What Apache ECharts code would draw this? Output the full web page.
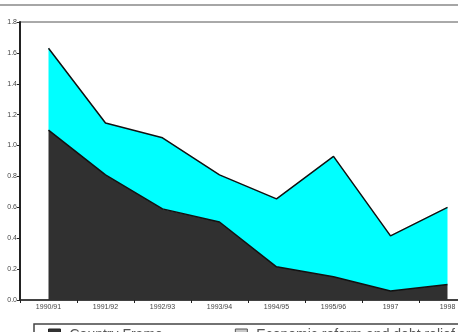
<!DOCTYPE html>
<html>
<head>
<meta charset="utf-8">
<script src="https://cdn.jsdelivr.net/npm/echarts@6/dist/echarts.min.js"></script>
<style>
html, body { margin: 0; padding: 0; background: #fff; }
#chart { width: 458px; height: 332px; }
</style>
</head>
<body>
<div id="chart"></div>
<script>
// years on the x axis
var years = ["1990/91", "1991/92", "1992/93", "1993/94", "1994/95", "1995/96", "1997", "1998"];
// bottom (dark) layer
var countryFrame = [1.10, 0.81, 0.59, 0.505, 0.215, 0.15, 0.058, 0.10];
// top (cyan) layer, stacked on the dark one
var economicReform = [0.53, 0.336, 0.46, 0.305, 0.44, 0.78, 0.357, 0.50];
var yTicks = [0, 0.2, 0.4, 0.6, 0.8, 1.0, 1.2, 1.4, 1.6, 1.8];

var chart = echarts.init(document.getElementById("chart"));
var option = {
  animation: false,
  textStyle: { fontFamily: "Liberation Sans, Arial, sans-serif" },
  grid: {
    left: 20,
    top: 22,
    width: 456,
    bottom: 32,
    outerBoundsMode: "none",
    show: true,
    borderColor: "#555",
    borderWidth: 1
  },
  legend: {
    left: 48,
    top: 328,
    padding: 0,
    itemWidth: 12,
    itemHeight: 12,
    itemGap: 72,
    icon: "rect",
    textStyle: { fontSize: 14, color: "#555", padding: [0, 0, 0, 4] },
    data: [
      { name: "Country Frame", itemStyle: { color: "#333", borderColor: "#222", borderWidth: 1 } },
      { name: "Economic reform and debt relief", itemStyle: { color: "#c8c8c8", borderColor: "#555", borderWidth: 1 } }
    ]
  },
  graphic: [
    {
      type: "line",
      shape: { x1: 0, y1: 5, x2: 458, y2: 5 },
      style: { stroke: "#888", lineWidth: 1.5 }
    },
    {
      type: "rect",
      shape: { x: 34, y: 324, width: 440, height: 40 },
      style: { fill: "none", stroke: "#444", lineWidth: 1.5 }
    }
  ],
  xAxis: {
    type: "category",
    data: years,
    boundaryGap: true,
    axisLine: { lineStyle: { color: "#222", width: 1.5 } },
    axisTick: { show: true, length: 3, lineStyle: { color: "#222" } },
    axisLabel: { fontSize: 7, color: "#444", margin: 4 },
    splitLine: { show: false }
  },
  yAxis: {
    type: "value",
    min: 0,
    max: 1.8,
    interval: 0.2,
    axisLine: { show: true, lineStyle: { color: "#222", width: 2 } },
    axisTick: { show: true, length: 3, lineStyle: { color: "#222" } },
    axisLabel: {
      fontSize: 7,
      color: "#444",
      margin: 3,
      formatter: function (v) {
        var t = yTicks.find(function (k) { return Math.abs(k - v) < 1e-6; });
        return (t === undefined ? v : t).toFixed(1);
      }
    },
    splitLine: { show: false }
  },
  series: [
    {
      name: "Country Frame",
      type: "line",
      stack: "total",
      data: countryFrame,
      symbol: "none",
      lineStyle: { color: "#111", width: 1.5 },
      itemStyle: { color: "#333" },
      areaStyle: { color: "#303030", opacity: 1 }
    },
    {
      name: "Economic reform and debt relief",
      type: "line",
      stack: "total",
      data: economicReform,
      symbol: "none",
      lineStyle: { color: "#111", width: 1.5 },
      itemStyle: { color: "#00ffff" },
      areaStyle: { color: "#00ffff", opacity: 1 }
    }
  ]
};
chart.setOption(option);
</script>
</body>
</html>
